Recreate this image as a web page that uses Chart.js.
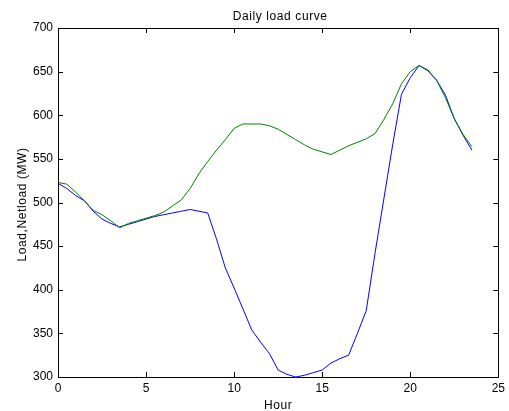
<!DOCTYPE html>
<html>
<head>
<meta charset="utf-8">
<script src="https://cdn.jsdelivr.net/npm/chart.js@4/dist/chart.umd.min.js"></script>
<style>
html,body{margin:0;padding:0;background:#fff;}
#wrap{width:509px;height:411px;}
</style>
</head>
<body>
<div id="wrap"><canvas id="c" width="509" height="411"></canvas></div>
<script>
const hours = [0,0.5,1,1.5,2,2.5,3,3.5,4,4.5,5,5.5,6,6.5,7,7.5,8,8.5,9,9.5,10,10.5,11,11.5,
               12,12.5,13,13.5,14,14.5,15,15.5,16,16.5,17,17.5,18,18.5,19,19.5,20,20.5,21,21.5,22,22.5,23,23.5];
const netload = [522,516,508,502,490,481,476,472,475,478,481,484,486,488,490,492,490,488,458,425,
                 402,378,354,340,327,308,303,300,302,305,308,316,321,325,350,376,442,504,566,624,
                 643,657,651,640,623,596,577,560];
const load = [523,521,512,502,491,486,479,471,476,479,482,485,489,496,503,516,533,547,560,572,
              585,590,590,590,588,584,578,572,566,561,558,555,560,565,569,573,579,595,613,636,
              650,657,652,640,620,596,578,564];
const xTicks = [0,5,10,15,20,25];
const yTicks = [300,350,400,450,500,550,600,650,700];
const titleText = 'Daily load curve';
const xTitle = 'Hour';
const yTitle = 'Load,Netload (MW)';

const FAMILY = '"Liberation Sans", Arial, sans-serif';
const FONT = '12px ' + FAMILY;

const boxPlugin = {
  id: 'matlabBox',
  afterDraw(chart) {
    const {ctx, chartArea: a, scales} = chart;
    ctx.save();
    ctx.strokeStyle = '#000';
    ctx.lineWidth = 1;
    ctx.strokeRect(Math.round(a.left)+0.5, Math.round(a.top)+0.5,
                   Math.round(a.right-a.left), Math.round(a.bottom-a.top));
    const tl = 5;
    ctx.beginPath();
    xTicks.forEach(v => {
      const px = Math.round(scales.x.getPixelForValue(v)) + 0.5;
      ctx.moveTo(px, a.bottom); ctx.lineTo(px, a.bottom - tl);
      ctx.moveTo(px, a.top); ctx.lineTo(px, a.top + tl);
    });
    yTicks.forEach(v => {
      const py = Math.round(scales.y.getPixelForValue(v)) + 0.5;
      ctx.moveTo(a.left, py); ctx.lineTo(a.left + tl, py);
      ctx.moveTo(a.right, py); ctx.lineTo(a.right - tl, py);
    });
    ctx.stroke();
    ctx.fillStyle = '#000';
    ctx.font = FONT;
    if ('letterSpacing' in ctx) ctx.letterSpacing = '0.6px';
    ctx.textAlign = 'center';
    ctx.textBaseline = 'alphabetic';
    const cx = (a.left + a.right) / 2;
    ctx.fillText(titleText, cx + 2, 20);
    ctx.fillText(xTitle, cx, 409);
    ctx.translate(26, (a.top + a.bottom) / 2 + 2);
    ctx.rotate(-Math.PI / 2);
    ctx.fillText(yTitle, 0, 0);
    ctx.restore();
  }
};

new Chart(document.getElementById('c'), {
  type: 'line',
  data: {
    datasets: [
      { label: 'Load', data: hours.map((h,i)=>({x:h, y:load[i]})),
        borderColor: '#008000', borderWidth: 1, pointRadius: 0, tension: 0, fill: false },
      { label: 'Netload', data: hours.map((h,i)=>({x:h, y:netload[i]})),
        borderColor: '#0000ff', borderWidth: 1, pointRadius: 0, tension: 0, fill: false }
    ]
  },
  options: {
    responsive: false,
    animation: false,
    devicePixelRatio: 1,
    layout: { padding: { top: 28, right: 9, left: 0, bottom: 0 } },
    plugins: { legend: { display: false }, title: { display: false }, tooltip: { enabled: false } },
    scales: {
      x: {
        type: 'linear', min: 0, max: 25,
        afterBuildTicks: s => { s.ticks = xTicks.map(v => ({value: v})); },
        afterFit: s => { s.height = 34; },
        grid: { display: false, drawTicks: false },
        border: { display: false },
        ticks: { color: '#000', font: { family: FAMILY, size: 12 }, padding: 4, maxRotation: 0 }
      },
      y: {
        type: 'linear', min: 300, max: 700,
        afterBuildTicks: s => { s.ticks = yTicks.map(v => ({value: v})); },
        afterFit: s => { s.width = 58; },
        grid: { display: false, drawTicks: false },
        border: { display: false },
        ticks: { color: '#000', font: { family: FAMILY, size: 12 }, padding: 5 }
      }
    }
  },
  plugins: [boxPlugin]
});
</script>
</body>
</html>
